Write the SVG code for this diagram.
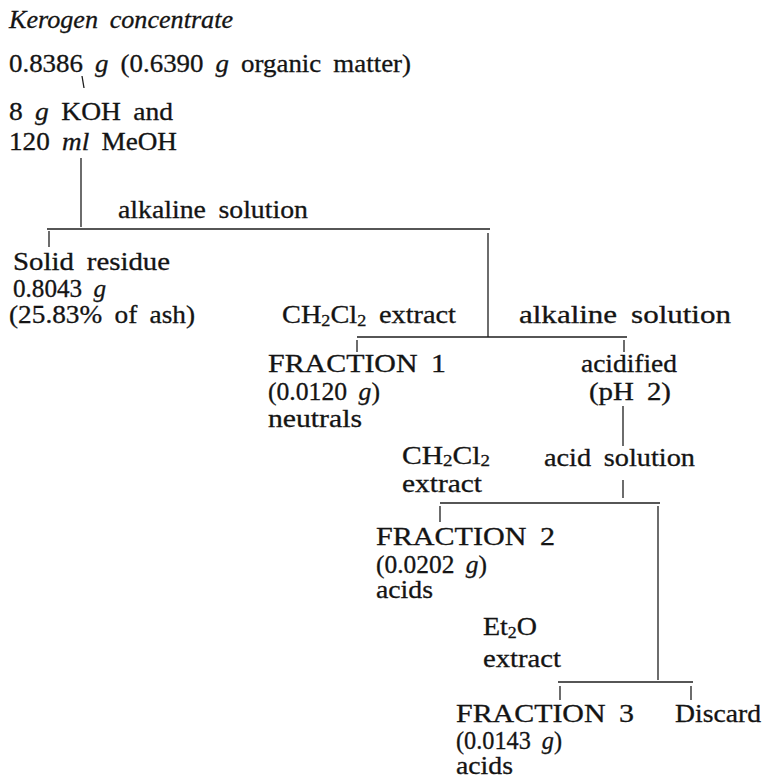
<svg xmlns="http://www.w3.org/2000/svg" width="766" height="780" viewBox="0 0 766 780">
  <style>
    text { font-family: "Liberation Serif", "Times New Roman", serif; font-size: 25px; fill: #141414; stroke: #141414; stroke-width: 0.3; word-spacing: 5px; }
    .it { font-style: italic; }
    .sub { font-size: 16px; }
    .ln { stroke: #1e1e1e; stroke-width: 1.3; fill: none; }
  </style>
  <rect width="766" height="780" fill="#ffffff"/>

  <!-- starting material -->
  <g id="kerogen">
    <text x="9" y="28" class="it" font-size="23" textLength="224" lengthAdjust="spacingAndGlyphs">Kerogen concentrate</text>
    <text x="9" y="72" textLength="402" lengthAdjust="spacingAndGlyphs">0.8386 <tspan class="it">g</tspan> (0.6390 <tspan class="it">g</tspan> organic matter)</text>
  </g>

  <g id="reagents">
    <text x="9" y="120" textLength="164" lengthAdjust="spacingAndGlyphs">8 <tspan class="it">g</tspan> KOH and</text>
    <text x="9" y="150" textLength="168" lengthAdjust="spacingAndGlyphs">120 <tspan class="it">ml</tspan> MeOH</text>
  </g>

  <g id="alkaline-solution-1">
    <text x="118" y="218" textLength="190" lengthAdjust="spacingAndGlyphs">alkaline solution</text>
  </g>

  <g id="solid-residue">
    <text x="13" y="270" textLength="157" lengthAdjust="spacingAndGlyphs">Solid residue</text>
    <text x="13" y="297" textLength="93" lengthAdjust="spacingAndGlyphs">0.8043 <tspan class="it">g</tspan></text>
    <text x="9" y="323" textLength="186" lengthAdjust="spacingAndGlyphs">(25.83% of ash)</text>
  </g>

  <g id="ch2cl2-extract-1">
    <text x="282" y="323" textLength="174" lengthAdjust="spacingAndGlyphs">CH<tspan class="sub" dy="3">2</tspan><tspan dy="-3">Cl</tspan><tspan class="sub" dy="3">2</tspan><tspan dy="-3"> extract</tspan></text>
  </g>

  <g id="alkaline-solution-2">
    <text x="519" y="323" textLength="212" lengthAdjust="spacingAndGlyphs">alkaline solution</text>
  </g>

  <g id="fraction-1">
    <text x="268" y="372" textLength="178" lengthAdjust="spacingAndGlyphs">FRACTION 1</text>
    <text x="268" y="400" textLength="112" lengthAdjust="spacingAndGlyphs">(0.0120 <tspan class="it">g</tspan>)</text>
    <text x="268" y="427" textLength="94" lengthAdjust="spacingAndGlyphs">neutrals</text>
  </g>

  <g id="acidified">
    <text x="581" y="372" textLength="96" lengthAdjust="spacingAndGlyphs">acidified</text>
    <text x="589" y="400" textLength="82" lengthAdjust="spacingAndGlyphs">(pH 2)</text>
  </g>

  <g id="ch2cl2-extract-2">
    <text x="402" y="464" textLength="88" lengthAdjust="spacingAndGlyphs">CH<tspan class="sub" dy="2">2</tspan><tspan dy="-2">Cl</tspan><tspan class="sub" dy="2">2</tspan></text>
    <text x="402" y="492" textLength="80" lengthAdjust="spacingAndGlyphs">extract</text>
  </g>

  <g id="acid-solution">
    <text x="544" y="466" textLength="151" lengthAdjust="spacingAndGlyphs">acid solution</text>
  </g>

  <g id="fraction-2">
    <text x="376" y="545" textLength="179" lengthAdjust="spacingAndGlyphs">FRACTION 2</text>
    <text x="376" y="573" textLength="111" lengthAdjust="spacingAndGlyphs">(0.0202 <tspan class="it">g</tspan>)</text>
    <text x="376" y="598" textLength="57" lengthAdjust="spacingAndGlyphs">acids</text>
  </g>

  <g id="et2o-extract">
    <text x="483" y="635" textLength="54" lengthAdjust="spacingAndGlyphs">Et<tspan class="sub" dy="3">2</tspan><tspan dy="-3">O</tspan></text>
    <text x="483" y="667" textLength="78" lengthAdjust="spacingAndGlyphs">extract</text>
  </g>

  <g id="fraction-3">
    <text x="456" y="722" textLength="178" lengthAdjust="spacingAndGlyphs">FRACTION 3</text>
    <text x="456" y="749" textLength="106" lengthAdjust="spacingAndGlyphs">(0.0143 <tspan class="it">g</tspan>)</text>
    <text x="456" y="774" textLength="57" lengthAdjust="spacingAndGlyphs">acids</text>
  </g>

  <g id="discard">
    <text x="675" y="722" textLength="86" lengthAdjust="spacingAndGlyphs">Discard</text>
  </g>

  <!-- connectors -->
  <g id="connectors" class="ln">
    <line x1="82" y1="76" x2="84" y2="88"/>
    <line x1="81" y1="158" x2="81" y2="227"/>
    <line x1="47" y1="229" x2="490" y2="229"/>
    <line x1="49" y1="231" x2="49" y2="247"/>
    <line x1="488" y1="233" x2="488" y2="337"/>
    <line x1="357" y1="337" x2="627" y2="337"/>
    <line x1="357" y1="340" x2="357" y2="352"/>
    <line x1="624" y1="340" x2="624" y2="352"/>
    <line x1="623" y1="406" x2="623" y2="446"/>
    <line x1="623" y1="480" x2="623" y2="498"/>
    <line x1="440" y1="503" x2="660" y2="503"/>
    <line x1="440" y1="506" x2="440" y2="522"/>
    <line x1="658" y1="506" x2="658" y2="680"/>
    <line x1="558" y1="682" x2="693" y2="682"/>
    <line x1="560" y1="686" x2="560" y2="700"/>
    <line x1="691" y1="686" x2="691" y2="700"/>
  </g>
</svg>
